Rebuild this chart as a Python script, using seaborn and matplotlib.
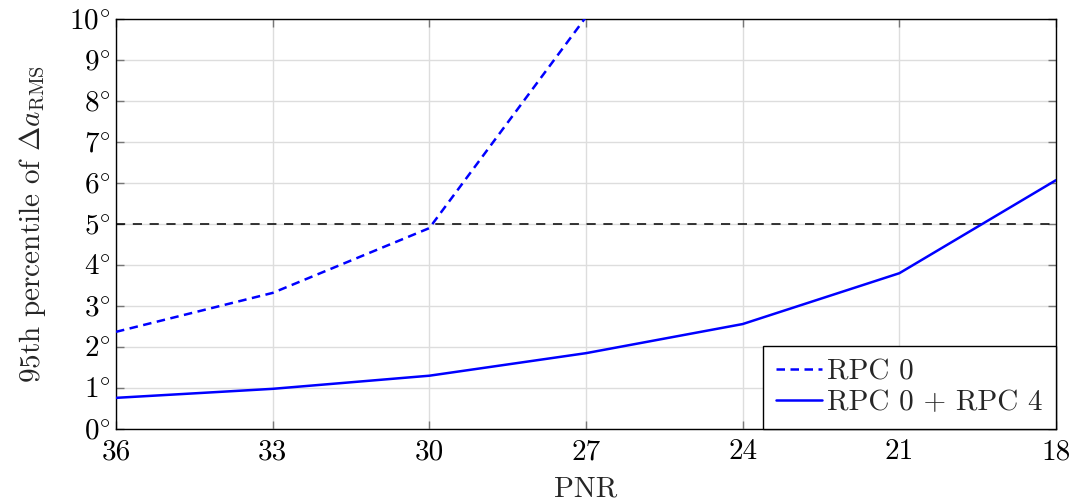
import matplotlib
matplotlib.use("Agg")
import matplotlib.pyplot as plt
import seaborn as sns
import pandas as pd
from matplotlib.ticker import FuncFormatter

pnr = [36, 33, 30, 27, 24, 21, 18]
rpc0_pnr = [36, 33, 30, 27]
rpc0 = [2.37, 3.32, 4.9, 10.05]
rpc04 = [0.76, 0.98, 1.3, 1.85, 2.56, 3.8, 6.07]
threshold = 5
label_a = "RPC 0"
label_b = "RPC 0 + RPC 4"

sns.set_theme(style="white")
plt.rcParams["font.family"] = ["cmr10"]
plt.rcParams["mathtext.fontset"] = "cm"
plt.rcParams["axes.formatter.use_mathtext"] = True
plt.rcParams["axes.unicode_minus"] = False

FS = 21

df = pd.concat([
    pd.DataFrame({"PNR": rpc0_pnr, "val": rpc0, "series": label_a}),
    pd.DataFrame({"PNR": pnr, "val": rpc04, "series": label_b}),
])

fig = plt.figure(figsize=(10.71, 5.01), dpi=100)
ax = fig.add_axes([0.1083, 0.1437, 0.8777, 0.8183])

ax.axhline(threshold, color="black", lw=1.1, dashes=(6, 5), zorder=2)

sns.lineplot(data=df, x="PNR", y="val", hue="series", style="series",
             palette={label_a: "#0000ff", label_b: "#0000ff"},
             dashes={label_a: (3.4, 2.2), label_b: ""},
             lw=1.8, ax=ax, sort=False, legend=True, zorder=3)

ax.set_xlim(36, 18)
ax.set_ylim(0, 10)
ax.set_xticks([36, 33, 30, 27, 24, 21, 18])
ax.set_yticks(range(0, 11))
ax.yaxis.set_major_formatter(FuncFormatter(lambda v, p: rf"${int(v)}^{{\circ}}$"))
ax.xaxis.set_major_formatter(FuncFormatter(lambda v, p: f"{int(v)}"))
ax.grid(True, color="#dddddd", lw=1.0, zorder=0)
ax.set_axisbelow(True)
for s in ax.spines.values():
    s.set_color("black")
    s.set_linewidth(1.0)
ax.tick_params(direction="in", length=6, width=1.0, color="#777777",
               top=True, right=True, bottom=True, left=True,
               labelsize=FS, labelcolor="black")
ax.tick_params(axis="x", pad=7)
ax.tick_params(axis="y", pad=4)
ax.set_xlabel("PNR", fontsize=FS, labelpad=8)
ax.set_ylabel(r"95th percentile of $\Delta a_{\mathrm{RMS}}$", fontsize=FS, labelpad=15)

leg = ax.legend(loc="lower right", fontsize=FS, frameon=True, fancybox=False,
                edgecolor="black", framealpha=1, handlelength=1.55,
                handletextpad=0.2, borderpad=0.45, labelspacing=0.15,
                borderaxespad=0.0)
leg.get_frame().set_linewidth(1.0)

fig.savefig("out.png", dpi=100)
